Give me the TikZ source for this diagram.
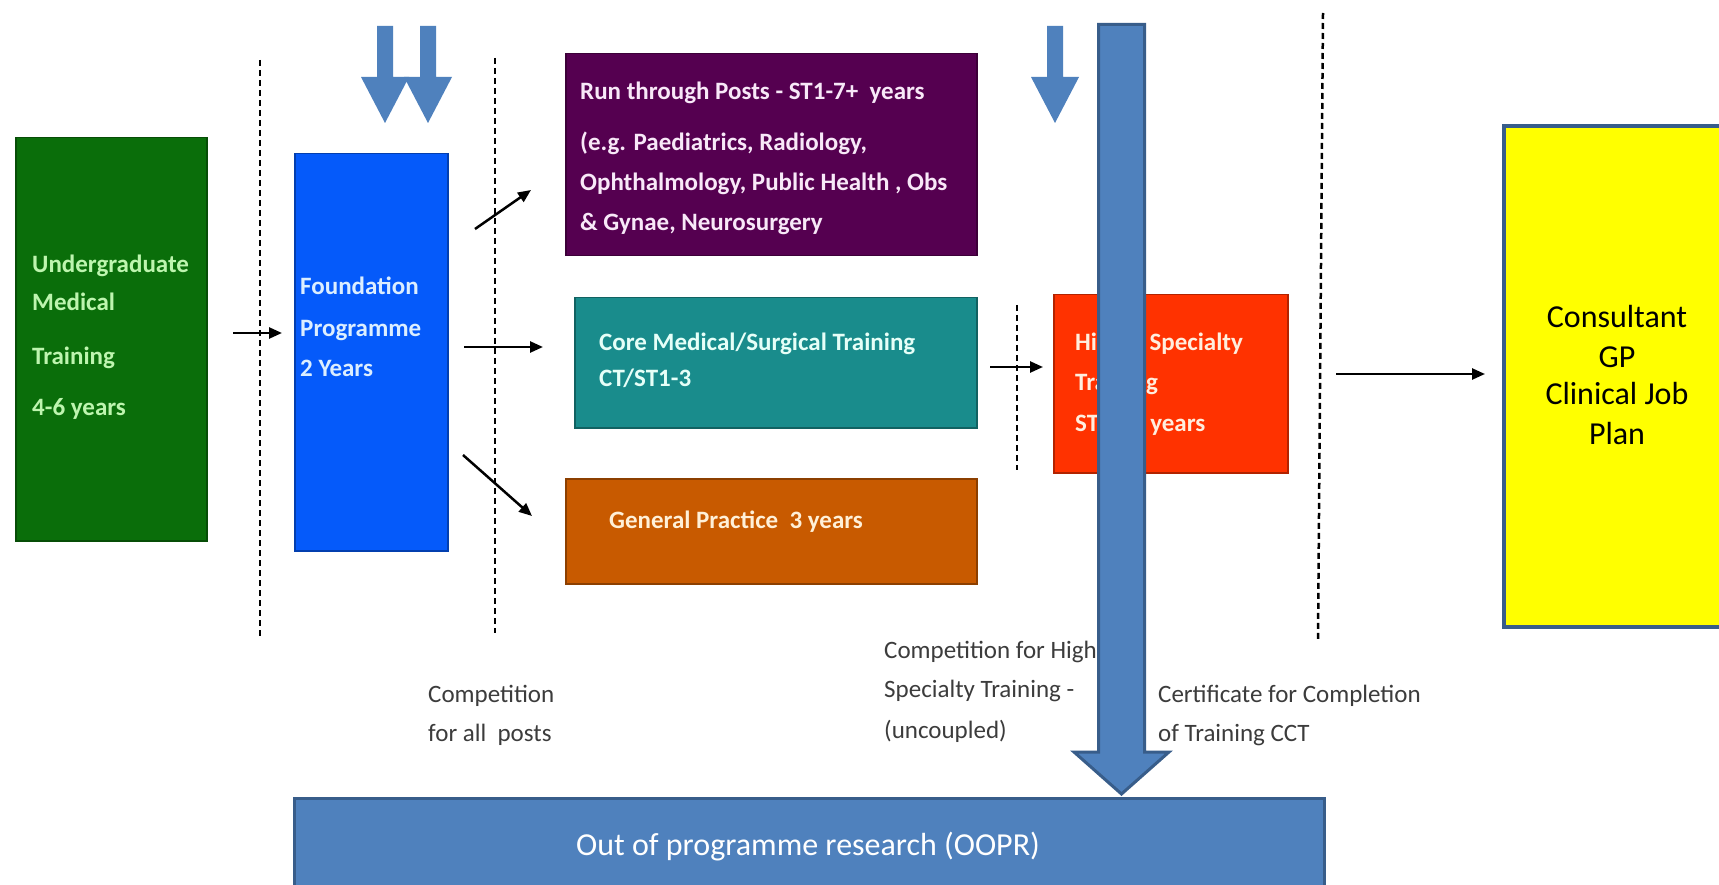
\documentclass[tikz,border=0pt]{standalone}
\usepackage{fontspec}
\setmainfont{Carlito}
\usetikzlibrary{arrows.meta}
\definecolor{cgreen}{RGB}{10,110,10}
\definecolor{cblue}{RGB}{5,90,250}
\definecolor{cpurple}{RGB}{85,0,80}
\definecolor{cteal}{RGB}{25,140,140}
\definecolor{corange}{RGB}{200,90,0}
\definecolor{cred}{RGB}{255,50,0}
\definecolor{cyellow}{RGB}{255,255,0}
\definecolor{steel}{RGB}{79,129,189}
\definecolor{steeldark}{RGB}{56,93,138}
\definecolor{tgreen}{RGB}{190,245,175}
\definecolor{tblue}{RGB}{220,238,255}
\definecolor{tpurple}{RGB}{248,232,248}
\definecolor{tteal}{RGB}{230,255,248}
\definecolor{torange}{RGB}{255,240,216}
\definecolor{tred}{RGB}{255,238,222}
\definecolor{tgray}{RGB}{60,60,60}
\begin{document}
\begin{tikzpicture}[x=1pt,y=-1pt,
  stage/.style={fill=#1, draw=#1!70!black, line width=1.5pt, inner sep=0pt, anchor=north west},
  lab/.style={anchor=base west, inner sep=0pt, font=\fontsize{25}{30}\selectfont\bfseries},
  note/.style={anchor=base west, inner sep=0pt, text=tgray, font=\fontsize{25}{30}\selectfont},
  big/.style={anchor=base, inner sep=0pt, font=\fontsize{32}{39}\selectfont},
  sep/.style={line width=2.5pt, dash pattern=on 6pt off 4pt},
  conn/.style={line width=2.5pt, -{Triangle[length=13pt,width=11pt]}},
  down/.style={fill=steel}
]
\useasboundingbox (0,0) rectangle (1719,885);
\clip (0,0) rectangle (1719,885);
\fill[white] (0,0) rectangle (1719,885);

% separators
\draw[sep] (260,60) -- (260,637);
\draw[sep] (495,58) -- (495,633);
\draw[sep] (1017,305) -- (1017,470);
\draw[sep] (1323,13) -- (1318,639);

% boxes
\node[stage=cgreen, minimum width=191pt, minimum height=403pt] (green) at (15,137) {};
\node[stage=cblue, minimum width=153pt, minimum height=397pt] (blue) at (294,153) {};
\node[stage=cpurple, minimum width=411pt, minimum height=202pt] (purple) at (565,53) {};
\node[stage=cteal, minimum width=402pt, minimum height=130pt] (teal) at (574,297) {};
\node[stage=corange, minimum width=411pt, minimum height=105pt] (orange) at (565,478) {};
\node[stage=cred, minimum width=234pt, minimum height=178pt] (red) at (1053,294) {};
\node[fill=cyellow, draw=steeldark, line width=4pt, inner sep=0pt, anchor=north west,
      minimum width=230pt, minimum height=501pt] (yellow) at (1502,124) {};
\node[fill=steel, draw=steeldark, line width=3pt, inner sep=0pt, anchor=north west,
      minimum width=1030pt, minimum height=98pt] (oopr) at (293,797) {};

% texts
\node[lab, text=tgreen] (g1) at (32,273) {Undergraduate};
\node[lab, text=tgreen] (g2) at (32,311) {Medical};
\node[lab, text=tgreen] (g3) at (32,364) {Training};
\node[lab, text=tgreen] (g4) at (32,415) {4-6 years};

\node[lab, text=tblue] (b1) at (300,295) {Foundation};
\node[lab, text=tblue] (b2) at (300,337) {Programme};
\node[lab, text=tblue] (b3) at (300,376) {2 Years};

\node[lab, text=tpurple] (p1) at (580,100) {Run through Posts - ST1-7+ \ years};
\node[lab, text=tpurple] (p2) at (580,151) {(e.g. Paediatrics, Radiology,};
\node[lab, text=tpurple] (p3) at (580,191) {Ophthalmology, Public Health , Obs};
\node[lab, text=tpurple] (p4) at (580,231) {\& Gynae, Neurosurgery};

\node[lab, text=tteal] (t1) at (599,351) {Core Medical/Surgical Training};
\node[lab, text=tteal] (t2) at (599,386) {CT/ST1-3};

\node[lab, text=torange] (o1) at (609,528) {General Practice \ 3 years};

\node[lab, text=tred] (r1) at (1075,350) {Higher Specialty};
\node[lab, text=tred] (r2) at (1075,390) {Training};
\node[lab, text=tred] (r3) at (1075,431) {ST4-7+ years};

\node[big] (y1) at (1617,327) {Consultant};
\node[big] (y2) at (1617,367) {GP};
\node[big] (y3) at (1617,404) {Clinical Job};
\node[big] (y4) at (1617,444) {Plan};

\node[note] (c1) at (428,702) {Competition};
\node[note] (c2) at (428,741) {for all \ posts};
\node[note] (h1) at (884,658) {Competition for Higher};
\node[note] (h2) at (884,697) {Specialty Training -};
\node[note] (h3) at (884,738) {(uncoupled)};
\node[note] (k1) at (1158,702) {Certificate for Completion};
\node[note] (k2) at (1158,741) {of Training CCT};

\node[big, text=white] (oo) at (808,855) {Out of programme research (OOPR)};

% connectors
\coordinate (a1s) at (233,333); \coordinate (a1e) at (282,333);
\coordinate (a2s) at (475,229); \coordinate (a2e) at (531,190);
\coordinate (a3s) at (464,347); \coordinate (a3e) at (543,347);
\coordinate (a4s) at (463,455); \coordinate (a4e) at (532,516);
\coordinate (a5s) at (990,367); \coordinate (a5e) at (1043,367);
\coordinate (a6s) at (1336,374); \coordinate (a6e) at (1485,374);
\draw[conn] (a1s) -- (a1e);
\draw[conn] (a2s) -- (a2e);
\draw[conn] (a3s) -- (a3e);
\draw[conn] (a4s) -- (a4e);
\draw[conn] (a5s) -- (a5e);
\draw[conn] (a6s) -- (a6e);

% small down arrows
\fill[down] (377,26) -- (393,26) -- (393,77) -- (409,77) -- (385,123) -- (361,77) -- (377,77) -- cycle;
\fill[down] (420,26) -- (436,26) -- (436,77) -- (452,77) -- (428,123) -- (404,77) -- (420,77) -- cycle;
\fill[down] (1047,26) -- (1063,26) -- (1063,77) -- (1079,77) -- (1055,123) -- (1031,77) -- (1047,77) -- cycle;

% big arrow to OOPR
\draw[fill=steel, draw=steeldark, line width=3pt, line join=miter]
  (1098.5,24.5) -- (1144.5,24.5) -- (1144.5,752) -- (1169,752) -- (1121.5,794) -- (1074,752) -- (1098.5,752) -- cycle;
\end{tikzpicture}
\end{document}
